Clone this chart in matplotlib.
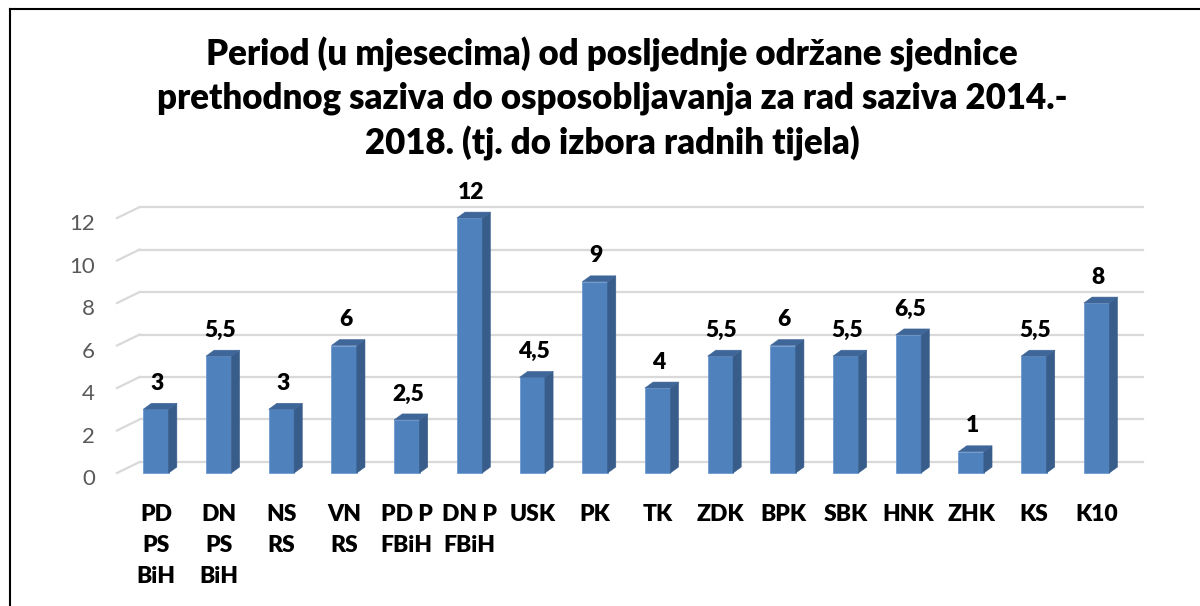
import matplotlib.pyplot as plt
from matplotlib.patches import Polygon
from matplotlib.lines import Line2D

categories = ['PD\nPS\nBiH', 'DN\nPS\nBiH', 'NS\nRS', 'VN\nRS', 'PD P\nFBiH', 'DN P\nFBiH',
              'USK', 'PK', 'TK', 'ZDK', 'BPK', 'SBK', 'HNK', 'ZHK', 'KS', 'K10']
values = [3, 5.5, 3, 6, 2.5, 12, 4.5, 9, 4, 5.5, 6, 5.5, 6.5, 1, 5.5, 8]
yticks = [0, 2, 4, 6, 8, 10, 12]
title = ('Period (u mjesecima) od posljednje održane sjednice\n'
         'prethodnog saziva do osposobljavanja za rad saziva 2014.-\n'
         '2018. (tj. do izbora radnih tijela)')

plt.rcParams['font.family'] = ['Lato', 'DejaVu Sans']

FRONT = '#4F81BD'
SIDE = '#385D8A'
TOP = '#3F6699'
GRID = '#D9D9D9'

fig = plt.figure(figsize=(12, 6.06), dpi=100)
ax = fig.add_axes([117 / 1200, 126 / 606, (1143 - 117) / 1200, 280 / 606])
xmin, xmax = -0.622, 15.74
ax.set_xlim(xmin, xmax)
ax.set_ylim(-0.33, 12.85)
ax.axis('off')

# depth of the back wall / of the bars (data units)
wall_dx, wall_dy = 0.36, 0.518
bar_dx, bar_dy = 0.13, 0.28
w = 0.405

for t in yticks:
    ax.plot([xmin, xmin + wall_dx], [t, t + wall_dy], color=GRID, lw=1.6, zorder=1, clip_on=False)
    ax.plot([xmin + wall_dx, xmax], [t + wall_dy, t + wall_dy], color=GRID, lw=1.6, zorder=1, clip_on=False)
    ax.text(xmin - 0.35, t - 0.3, str(t), ha='right', va='center', fontsize=16, color='#595959')

for i, v in enumerate(values):
    x0, x1 = i - w / 2, i + w / 2
    ax.add_patch(Polygon([(x0, 0), (x1, 0), (x1, v), (x0, v)], closed=True,
                         facecolor=FRONT, edgecolor='#6E9BD1', lw=0.6, zorder=3))
    ax.add_patch(Polygon([(x1, 0), (x1 + bar_dx, bar_dy), (x1 + bar_dx, v + bar_dy), (x1, v)],
                         closed=True, facecolor=SIDE, edgecolor=SIDE, lw=0.4, zorder=3))
    ax.add_patch(Polygon([(x0, v), (x1, v), (x1 + bar_dx, v + bar_dy), (x0 + bar_dx, v + bar_dy)],
                         closed=True, facecolor=TOP, edgecolor=TOP, lw=0.4, zorder=3))
    lab = ('%g' % v).replace('.', ',')
    ax.text(i + 0.02, v + 1.22, lab, ha='center', va='center', fontsize=16.5,
            fontweight='heavy', color='black', clip_on=False)
    ax.text(i, -1.45, categories[i], ha='center', va='top', fontsize=16.5, fontweight='heavy',
            color='black', linespacing=1.6, clip_on=False)

fig.text(612 / 1200, 1 - 99 / 606, title, ha='center', va='center', fontsize=25,
         fontweight='heavy', linespacing=1.38)

# chart border (left and top)
fig.add_artist(Line2D([10 / 1200, 10 / 1200], [0, 1 - 9 / 606], color='black', lw=1.5))
fig.add_artist(Line2D([10 / 1200, 1], [1 - 9 / 606, 1 - 9 / 606], color='black', lw=1.5))

fig.savefig('out.png', dpi=100)
